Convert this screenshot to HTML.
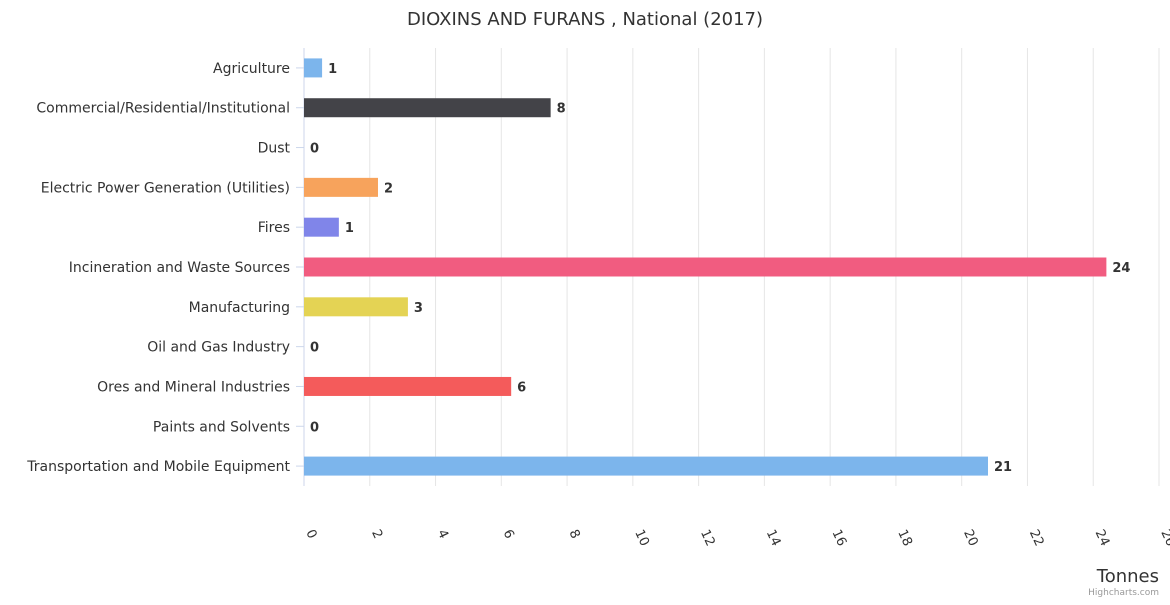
<!DOCTYPE html>
<html><head><meta charset="utf-8"><style>
body{margin:0;background:#fff;font-family:"Liberation Sans","DejaVu Sans",sans-serif}
svg text{font-family:"DejaVu Sans","Liberation Sans",sans-serif}
</style></head><body>
<svg id="c" width="1170" height="600">
<text x="585" y="25" text-anchor="middle" font-size="18" fill="#333">DIOXINS AND FURANS , National (2017)</text>
<g id="grid"></g><g id="bars"></g><g id="labels"></g>
<text x="1159" y="582" text-anchor="end" font-size="18" fill="#333">Tonnes</text>
<text x="1159" y="595" text-anchor="end" font-size="9" fill="#999">Highcharts.com</text>
</svg>
<script>
const categories=["Agriculture","Commercial/Residential/Institutional","Dust","Electric Power Generation (Utilities)","Fires","Incineration and Waste Sources","Manufacturing","Oil and Gas Industry","Ores and Mineral Industries","Paints and Solvents","Transportation and Mobile Equipment"];
const values=[0.55,7.5,0,2.25,1.06,24.4,3.16,0,6.3,0,20.8];
const printed=["1","8","0","2","1","24","3","0","6","0","21"];
const colors=["#7cb5ec","#434348","#90ed7d","#f7a35c","#8085e9","#f15c80","#e4d354","#2b908f","#f45b5b","#91e8e1","#7cb5ec"];
const ticks=[0,2,4,6,8,10,12,14,16,18,20,22,24,26];
const NS="http://www.w3.org/2000/svg";
const x0=304,x1=1159,yTop=48,yBot=486,xmax=26;
const X=v=>x0+v/xmax*(x1-x0);
const band=(yBot-yTop)/categories.length;
const Y=i=>yTop+band*(i+0.5);
function mk(tag,a,p){const e=document.createElementNS(NS,tag);for(const k in a)e.setAttribute(k,a[k]);p.appendChild(e);return e;}
const g=document.getElementById('grid'),b=document.getElementById('bars'),l=document.getElementById('labels');
ticks.forEach(t=>{
 const ln=mk('line',{x1:X(t),x2:X(t),y1:yTop,y2:yBot,stroke:t===0?'#ccd6eb':'#e6e6e6','stroke-width':1},g);
 
 
 const tx=mk('text',{x:X(t)+2,y:532,'font-size':13,fill:'#333',transform:`rotate(65 ${X(t)+2} 532)`},l);
 tx.textContent=t;
 
 
});
categories.forEach((c,i)=>{
 const y=Y(i);
 const tk=mk('line',{x1:x0-8,x2:x0,y1:y,y2:y,stroke:'#ccd6eb'},g);
 
 
 const lab=mk('text',{x:290,y:y+5,'text-anchor':'end','font-size':14,fill:'#333'},l);
 lab.textContent=c;
 
 
 const r=mk('rect',{x:x0,y:y-9.5,width:X(values[i])-x0,height:19,fill:colors[i]},b);
 
 
 const v=mk('text',{x:X(values[i])+6,y:y+5,'font-size':13,'font-weight':'bold',fill:'#333'},l);
 v.textContent=printed[i];
 
 
});
</script>
</body></html>
